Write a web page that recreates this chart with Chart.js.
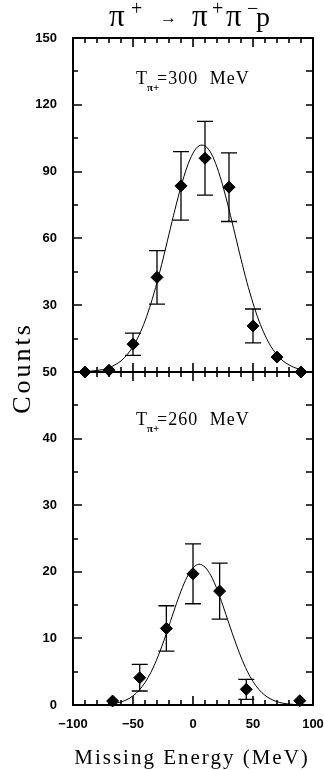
<!DOCTYPE html>
<html>
<head>
<meta charset="utf-8">
<script src="https://cdn.jsdelivr.net/npm/chart.js@4.4.0/dist/chart.umd.min.js"></script>
<style>
  html, body { margin: 0; padding: 0; background: #fff; }
  #wrap { position: relative; width: 324px; height: 770px; }
  #wrap canvas { position: absolute; left: 0; top: 0; }
</style>
</head>
<body>
<div id="wrap">
  <canvas id="low" width="324" height="770"></canvas>
  <canvas id="high" width="324" height="770"></canvas>
</div>
<script>
// upper panel, T = 300 MeV
const energy300 = [-90, -70, -50, -30, -10, 10, 30, 50, 70, 90];
const counts300 = [0, 0.8, 12.5, 42.5, 83.6, 96, 83, 20.7, 6.7, 0];
const err300    = [0, 0, 5, 12, 15.4, 16.6, 15.4, 7.6, 0, 0];
// fitted curve
const fitX300 = [-90, -85, -80, -75, -70, -65, -60, -55, -50, -45, -40, -35, -30, -25, -20, -15, -10, -5, 0,
                 5, 10, 15, 20, 25, 30, 35, 40, 45, 50, 55, 60, 65, 70, 75, 80, 85, 90];
const fitY300 = [0.2, 0.4, 0.7, 1.1, 1.9, 3.2, 5, 7.7, 11.4, 16.5, 22.9, 30.9, 40.2, 50.7, 61.9, 73, 83.3, 92, 98.3,
                 101.6, 101.6, 98.3, 92, 83.3, 73, 61.9, 50.7, 40.2, 30.9, 22.9, 16.5, 11.4, 7.7, 5, 3.2, 1.9, 1.1];

// lower panel, T = 260 MeV
const energy260 = [-67, -44.4, -22.2, 0, 22.2, 44.4, 89];
const counts260 = [0.6, 4.1, 11.5, 19.7, 17.1, 2.35, 0.65];
const err260    = [0, 2, 3.4, 4.5, 4.2, 1.5, 0];
const fitX260 = [-65, -60, -55, -50, -45, -40, -35, -30, -25, -20, -15, -10, -5, 0,
                 5, 10, 15, 20, 25, 30, 35, 40, 45, 50, 55, 60, 65, 70, 75, 80, 85];
const fitY260 = [0.25, 0.46, 0.81, 1.36, 2.19, 3.36, 4.93, 6.92, 9.29, 11.9, 14.6, 17.1, 19.2, 20.6,
                 21.15, 20.7, 19.4, 17.4, 14.9, 12.2, 9.6, 7.2, 5.15, 3.52, 2.31, 1.44, 0.87, 0.5, 0.27, 0.14, 0.07];

const xTicks = [-100, -50, 0, 50, 100];
const yTicks300 = [30, 60, 90, 120, 150];
const yTicks260 = [0, 10, 20, 30, 40, 50];

const tickFont = { family: '"Liberation Sans", Arial, sans-serif', size: 13, weight: 'bold' };

function pts(xs, ys) {
  return xs.map((v, i) => ({ x: v, y: ys[i] }));
}

// frame + inward ticks, error bars
const framePlugin = {
  id: 'frame',
  afterDatasetsDraw(chart, args, opts) {
    const { ctx, scales: { x, y } } = chart;
    ctx.save();
    ctx.strokeStyle = '#000';
    ctx.lineWidth = 1.3;
    ctx.beginPath();
    opts.err.forEach((e, i) => {
      if (!e) return;
      const px = x.getPixelForValue(opts.xs[i]);
      const y1 = y.getPixelForValue(opts.ys[i] + e);
      const y2 = y.getPixelForValue(opts.ys[i] - e);
      ctx.moveTo(px, y1); ctx.lineTo(px, y2);
      ctx.moveTo(px - 8, y1); ctx.lineTo(px + 8, y1);
      ctx.moveTo(px - 8, y2); ctx.lineTo(px + 8, y2);
    });
    ctx.stroke();
    ctx.restore();
  },
  afterDraw(chart, args, opts) {
    const { ctx, chartArea: a, scales: { x, y } } = chart;
    ctx.save();
    ctx.strokeStyle = '#000';
    ctx.lineWidth = 2;
    ctx.strokeRect(a.left, a.top, a.right - a.left, a.bottom - a.top);
    ctx.lineWidth = 1.6;
    ctx.beginPath();
    for (let v = y.min + opts.minor; v < y.max - 1e-6; v += opts.minor) {
      const py = Math.round(y.getPixelForValue(v));
      const len = (Math.round(v / opts.minor) % 2 === 0) ? 9 : 5;
      ctx.moveTo(a.left, py); ctx.lineTo(a.left + len, py);
      ctx.moveTo(a.right, py); ctx.lineTo(a.right - 7, py);
    }
    for (let v = x.min + 10; v < x.max; v += 10) {
      const px = Math.round(x.getPixelForValue(v));
      const len = v % 50 === 0 ? 9 : 5;
      ctx.moveTo(px, a.top); ctx.lineTo(px, a.top + len);
      ctx.moveTo(px, a.bottom); ctx.lineTo(px, a.bottom - len);
    }
    ctx.stroke();

    // texts
    ctx.fillStyle = '#000';
    ctx.textBaseline = 'alphabetic';
    ctx.textAlign = 'left';
    const serif = '"Liberation Serif", "DejaVu Serif", serif';
    const base = opts.labelY;
    ctx.font = '18px ' + serif;
    ctx.fillText('T', 136, base);
    ctx.font = 'bold 11px ' + serif;
    ctx.fillText('π+', 147, base + 7);
    ctx.font = '18px ' + serif;
    ctx.letterSpacing = '1px';
    ctx.wordSpacing = '6px';
    ctx.fillText(opts.label, 157, base);
    ctx.letterSpacing = '0px';
    ctx.wordSpacing = '0px';

    if (opts.top) {
      ctx.font = '31px ' + serif;
      ctx.fillText('π', 109, 26);
      ctx.fillText('π', 192, 26);
      ctx.fillText('π', 226, 26);
      ctx.font = '28px ' + serif;
      ctx.fillText('p', 256, 26);
      ctx.font = '20px ' + serif;
      ctx.fillText('+', 131, 15);
      ctx.fillText('+', 212, 15);
      ctx.fillText('−', 247, 15);
      ctx.font = '17px ' + serif;
      ctx.fillText('→', 160, 23);

      ctx.save();
      ctx.translate(30, 368);
      ctx.rotate(-Math.PI / 2);
      ctx.textAlign = 'center';
      ctx.font = '26px ' + serif;
      ctx.letterSpacing = '3px';
      ctx.fillText('Counts', 0, 0);
      ctx.restore();
    } else {
      ctx.textAlign = 'center';
      ctx.font = '21px ' + serif;
      ctx.letterSpacing = '2px';
      ctx.fillText('Missing Energy (MeV)', 192, 764);
    }
    ctx.restore();
  }
};

function makeChart(id, o) {
  return new Chart(document.getElementById(id), {
    type: 'scatter',
    data: {
      datasets: [
        {
          data: pts(o.fitX, o.fitY),
          showLine: true,
          borderColor: '#000',
          borderWidth: 1,
          pointRadius: 0,
          tension: 0.3,
          clip: false
        },
        {
          data: pts(o.xs, o.ys),
          pointStyle: 'rectRot',
          pointRadius: 6,
          pointBorderWidth: 1,
          pointBackgroundColor: '#000',
          pointBorderColor: '#000',
          clip: false
        }
      ]
    },
    options: {
      responsive: false,
      animation: false,
      events: [],
      layout: { padding: o.padding },
      scales: {
        x: {
          type: 'linear',
          min: -100, max: 100,
          display: o.showX,
          afterBuildTicks: s => { s.ticks = xTicks.map(v => ({ value: v })); },
          afterFit: s => {
            s.height = o.showX ? 65 : 0;
            s.paddingLeft = 0;
            s.paddingRight = 0;
          },
          grid: { display: false, drawTicks: false },
          border: { display: false },
          ticks: {
            padding: 12,
            color: '#000',
            font: tickFont,
            maxRotation: 0,
            callback: v => String(v).replace('-', '−')
          }
        },
        y: {
          type: 'linear',
          min: 0, max: o.yMax,
          afterBuildTicks: s => { s.ticks = o.yTicks.map(v => ({ value: v })); },
          afterFit: s => {
            s.width = 73;
            s.paddingTop = 0;
            s.paddingBottom = 0;
          },
          grid: { display: false, drawTicks: false },
          border: { display: false },
          ticks: { padding: 16, color: '#000', font: tickFont }
        }
      },
      plugins: {
        legend: { display: false },
        tooltip: { enabled: false },
        frame: {
          err: o.err, xs: o.xs, ys: o.ys,
          minor: o.minor, label: o.label, labelY: o.labelY, top: o.top
        }
      }
    },
    plugins: [framePlugin]
  });
}

makeChart('low', {
  fitX: fitX260, fitY: fitY260, xs: energy260, ys: counts260, err: err260,
  yMax: 50, yTicks: yTicks260, minor: 5, showX: true,
  padding: { left: 0, right: 11, top: 372, bottom: 0 },
  label: '=260 MeV', labelY: 425, top: false
});

makeChart('high', {
  fitX: fitX300, fitY: fitY300, xs: energy300, ys: counts300, err: err300,
  yMax: 150, yTicks: yTicks300, minor: 15, showX: false,
  padding: { left: 0, right: 11, top: 38, bottom: 398 },
  label: '=300 MeV', labelY: 84, top: true
});
</script>
</body>
</html>
